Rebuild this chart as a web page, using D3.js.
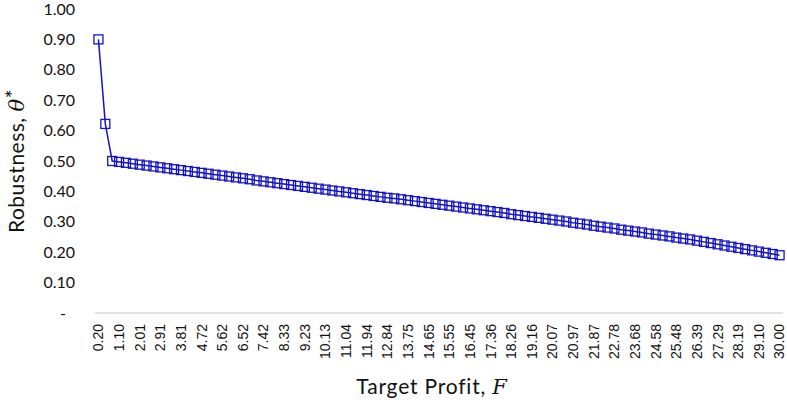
<!DOCTYPE html>
<html>
<head>
<meta charset="utf-8">
<title>Robustness vs Target Profit</title>
<script src="https://cdnjs.cloudflare.com/ajax/libs/d3/7.8.5/d3.min.js"></script>
<style>
  body { margin: 0; background: #fff; }
  svg { display: block; }
</style>
</head>
<body>
<script>
// target profit F (categories)
var targetProfit = [
  '0.20','0.50','0.80','1.10','1.40','1.71','2.01','2.31','2.61','2.91',
  '3.21','3.51','3.81','4.11','4.41','4.72','5.02','5.32','5.62','5.92',
  '6.22','6.52','6.82','7.12','7.42','7.73','8.03','8.33','8.63','8.93',
  '9.23','9.53','9.83','10.13','10.43','10.74','11.04','11.34','11.64','11.94',
  '12.24','12.54','12.84','13.14','13.44','13.75','14.05','14.35','14.65','14.95',
  '15.25','15.55','15.85','16.15','16.45','16.76','17.06','17.36','17.66','17.96',
  '18.26','18.56','18.86','19.16','19.46','19.77','20.07','20.37','20.67','20.97',
  '21.27','21.57','21.87','22.17','22.47','22.78','23.08','23.38','23.68','23.98',
  '24.28','24.58','24.88','25.18','25.48','25.79','26.09','26.39','26.69','26.99',
  '27.29','27.59','27.89','28.19','28.49','28.80','29.10','29.40','29.70','30.00'
];

// robustness theta*
var robustness = [
  0.900,0.622,0.500,0.497,0.494,0.491,0.488,0.485,0.482,0.479,
  0.476,0.473,0.470,0.467,0.464,0.461,0.458,0.455,0.452,0.449,
  0.446,0.443,0.440,0.436,0.433,0.430,0.427,0.424,0.421,0.418,
  0.415,0.412,0.409,0.406,0.403,0.400,0.397,0.394,0.391,0.388,
  0.385,0.382,0.379,0.377,0.374,0.371,0.368,0.365,0.362,0.359,
  0.356,0.353,0.350,0.347,0.344,0.341,0.338,0.335,0.332,0.329,
  0.325,0.322,0.319,0.316,0.313,0.310,0.307,0.304,0.301,0.297,
  0.294,0.291,0.287,0.284,0.281,0.278,0.274,0.271,0.268,0.265,
  0.261,0.258,0.255,0.252,0.248,0.245,0.242,0.238,0.234,0.230,
  0.226,0.222,0.218,0.214,0.210,0.206,0.202,0.198,0.194,0.190
];

// every third category gets a label
var xTickLabels = [
  '0.20','1.10','2.01','2.91','3.81','4.72','5.62','6.52','7.42','8.33',
  '9.23','10.13','11.04','11.94','12.84','13.75','14.65','15.55','16.45','17.36',
  '18.26','19.16','20.07','20.97','21.87','22.78','23.68','24.58','25.48','26.39',
  '27.29','28.19','29.10','30.00'
];
var yTicks = [0, 0.1, 0.2, 0.3, 0.4, 0.5, 0.6, 0.7, 0.8, 0.9, 1.0];

var width = 787, height = 410;
var margin = {top: 9, right: 4, bottom: 97, left: 95};
var blue = '#1414c4';

var svg = d3.select('body').append('svg')
  .attr('width', width)
  .attr('height', height);

var x = d3.scaleBand()
  .domain(targetProfit)
  .range([margin.left, width - margin.right]);

var y = d3.scaleLinear()
  .domain([0, 1])
  .range([height - margin.bottom, margin.top]);

// y axis (no line, no ticks)
var yAxis = svg.append('g')
  .attr('transform', 'translate(' + (margin.left - 20) + ',0)')
  .call(d3.axisLeft(y).tickValues(yTicks).tickSize(0)
    .tickFormat(function (d) { return d === 0 ? '-' : d3.format('.2f')(d); }));
yAxis.select('.domain').remove();
yAxis.selectAll('text')
  .attr('x', 0)
  .style('font-family', 'Lato, "Noto Sans", sans-serif')
  .style('font-size', '16px')
  .attr('fill', '#111');
yAxis.selectAll('text').filter(function (d) { return d === 0; })
  .attr('x', -9);

// x axis line
svg.append('line')
  .attr('x1', margin.left).attr('x2', width - margin.right)
  .attr('y1', y(0)).attr('y2', y(0))
  .attr('stroke', '#d9d9d9')
  .attr('stroke-width', 1.3);

var xAxis = svg.append('g')
  .attr('transform', 'translate(0,' + y(0) + ')')
  .call(d3.axisBottom(x).tickValues(xTickLabels).tickSize(0));
xAxis.select('.domain').remove();
xAxis.selectAll('text')
  .attr('transform', 'rotate(-90)')
  .attr('x', -11)
  .attr('y', 0)
  .attr('dy', '0.35em')
  .style('text-anchor', 'end')
  .style('font-family', '"Liberation Sans", Arial, sans-serif')
  .style('font-size', '14px')
  .attr('fill', '#111');

// line
var pts = targetProfit.map(function (f, i) { return {f: f, r: robustness[i]}; });
var cx = function (d) { return x(d.f) + x.bandwidth() / 2; };

svg.append('path')
  .datum(pts)
  .attr('fill', 'none')
  .attr('stroke', blue)
  .attr('stroke-width', 1.5)
  .attr('d', d3.line().x(cx).y(function (d) { return y(d.r); }));

// square markers
var ms = 9;
svg.append('g').selectAll('rect')
  .data(pts)
  .enter()
  .append('rect')
  .attr('x', function (d) { return cx(d) - ms / 2; })
  .attr('y', function (d) { return y(d.r) - ms / 2; })
  .attr('width', ms)
  .attr('height', ms)
  .attr('fill', 'none')
  .attr('stroke', blue)
  .attr('stroke-width', 1.3);

// axis titles
var yt = svg.append('text')
  .attr('transform', 'translate(24,' + ((margin.top + y(0)) / 2) + ') rotate(-90)')
  .attr('text-anchor', 'middle')
  .style('font-family', 'Lato, "Noto Sans", sans-serif')
  .style('font-size', '21px')
  .style('letter-spacing', '0.5px')
  .attr('fill', '#111');
yt.append('tspan').text('Robustness, ');
yt.append('tspan').text('θ').style('font-family', '"DejaVu Serif", serif').style('font-style', 'italic');
yt.append('tspan').text('*').attr('dy', -3);

var xt = svg.append('text')
  .attr('x', 432)
  .attr('y', 394)
  .attr('text-anchor', 'middle')
  .style('font-family', 'Lato, "Noto Sans", sans-serif')
  .style('font-size', '21px')
  .style('letter-spacing', '0.8px')
  .attr('fill', '#111');
xt.append('tspan').text('Target Profit, ');
xt.append('tspan').text('F').style('font-family', '"DejaVu Serif", serif').style('font-style', 'italic');
</script>
</body>
</html>
